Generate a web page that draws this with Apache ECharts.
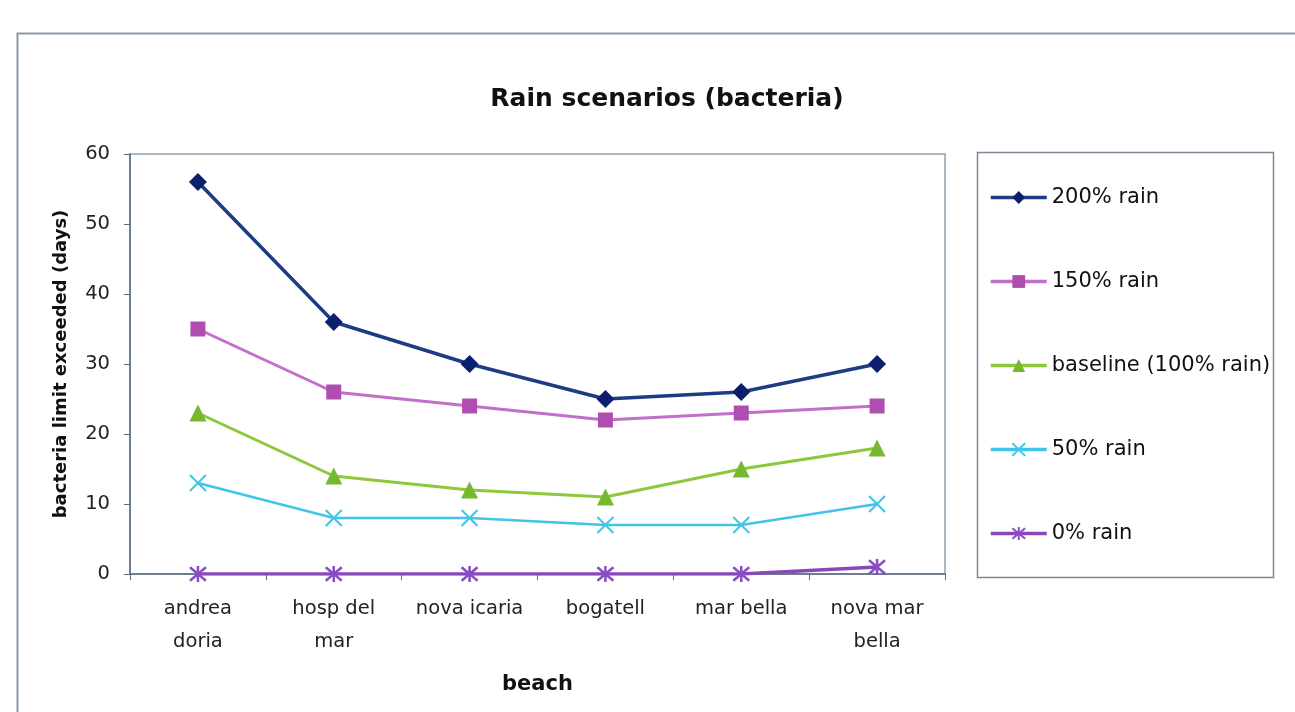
<!DOCTYPE html>
<html>
<head>
<meta charset="utf-8">
<script src="https://cdn.jsdelivr.net/npm/echarts@6/dist/echarts.min.js"></script>
<style>
  html, body { margin: 0; padding: 0; background: #fff; }
  #chart { width: 1295px; height: 712px; }
</style>
</head>
<body>
<div id="chart"></div>
<script>
// Beaches along the coast (x axis)
const beaches = ['andrea\ndoria', 'hosp del\nmar', 'nova icaria', 'bogatell', 'mar bella', 'nova mar\nbella'];

// Days the bacteria limit is exceeded, per rain scenario
const rain200 = [56, 36, 30, 25, 26, 30];
const rain150 = [35, 26, 24, 22, 23, 24];
const rainBaseline = [23, 14, 12, 11, 15, 18];
const rain50 = [13, 8, 8, 7, 7, 10];
const rain0 = [0, 0, 0, 0, 0, 1];

const seriesNames = ['200% rain', '150% rain', 'baseline (100% rain)', '50% rain', '0% rain'];
const yTicks = [0, 10, 20, 30, 40, 50, 60];

const FONT = '"DejaVu Sans", "Liberation Sans", Arial, sans-serif';
const crossPath = 'path://M0,0L10,10M10,0L0,10';
const starPath = 'path://M0,0L10,10M10,0L0,10M5,-1L5,11';

const chart = echarts.init(document.getElementById('chart'));

function lineSeries(name, data, color, lineColor, width, symbol, size, extra) {
  return Object.assign({
    name: name,
    type: 'line',
    data: data,
    symbol: symbol,
    symbolSize: size,
    lineStyle: { color: lineColor, width: width },
    itemStyle: { color: color },
    emphasis: { disabled: true },
    z: 3
  }, extra || {});
}

chart.setOption({
  animation: false,
  backgroundColor: '#ffffff',
  title: {
    text: 'Rain scenarios (bacteria)',
    left: 662,
    top: 82,
    textAlign: 'center',
    textStyle: { fontFamily: FONT, fontSize: 25, fontWeight: 'bold', color: '#111' }
  },
  graphic: [
    { type: 'rect', shape: { x: 17.5, y: 33.5, width: 1300, height: 700 },
      style: { fill: 'none', stroke: '#8a98a8', lineWidth: 2 }, silent: true },
    { type: 'rect', shape: { x: 977.5, y: 152.5, width: 296, height: 425 },
      style: { fill: '#fff', stroke: '#7a8898', lineWidth: 1.5 }, silent: true, z: -1 }
  ],
  legend: {
    orient: 'vertical',
    left: 984,
    top: 182,
    itemWidth: 56,
    itemHeight: 16,
    itemGap: 63,
    data: seriesNames,
    lineStyle: { width: 3.5 },
    textStyle: { fontFamily: FONT, fontSize: 21, color: '#111' },
    selectedMode: false
  },
  grid: {
    left: 130, right: 350, top: 154, bottom: 138,
    show: true, borderColor: '#8fa2b4', borderWidth: 1.5, backgroundColor: 'transparent'
  },
  xAxis: {
    type: 'category',
    data: beaches,
    boundaryGap: true,
    name: 'beach',
    nameLocation: 'middle',
    nameGap: 100,
    nameTextStyle: { fontFamily: FONT, fontSize: 21, fontWeight: 'bold', color: '#111' },
    axisLine: { lineStyle: { color: '#5a6a7a', width: 1.5 } },
    axisTick: { show: true, inside: false, length: 6, interval: 0, lineStyle: { color: '#5a6a7a' } },
    axisLabel: { fontFamily: FONT, fontSize: 19.5, color: '#222', margin: 18, lineHeight: 33, interval: 0 },
    splitLine: { show: false }
  },
  yAxis: {
    type: 'value',
    min: 0,
    max: 60,
    interval: 10,
    name: 'bacteria limit exceeded (days)',
    nameLocation: 'middle',
    nameGap: 60,
    nameTextStyle: { fontFamily: FONT, fontSize: 18, fontWeight: 'bold', color: '#111' },
    axisLine: { show: true, lineStyle: { color: '#5a6a7a', width: 1.5 } },
    axisTick: { show: true, length: 6, lineStyle: { color: '#5a6a7a' } },
    axisLabel: { fontFamily: FONT, fontSize: 19.5, color: '#222', margin: 20,
      formatter: v => yTicks.includes(v) ? String(v) : '' },
    splitLine: { show: false }
  },
  series: [
    lineSeries(seriesNames[0], rain200, '#0c1f6e', '#1e3c84', 3.5, 'diamond', 18),
    lineSeries(seriesNames[1], rain150, '#b04db0', '#c070c8', 3, 'rect', 15),
    lineSeries(seriesNames[2], rainBaseline, '#76b82e', '#8cc83c', 3, 'triangle', 17),
    lineSeries(seriesNames[3], rain50, '#40c4e8', '#40c4e8', 2.5, crossPath, 16,
      { itemStyle: { color: 'none', borderColor: '#40c4e8', borderWidth: 2 } }),
    lineSeries(seriesNames[4], rain0, '#8040b0', '#8848b8', 3.5, starPath, 16,
      { itemStyle: { color: 'none', borderColor: '#8a4cc4', borderWidth: 2.5 } })
  ]
});
</script>
</body>
</html>
